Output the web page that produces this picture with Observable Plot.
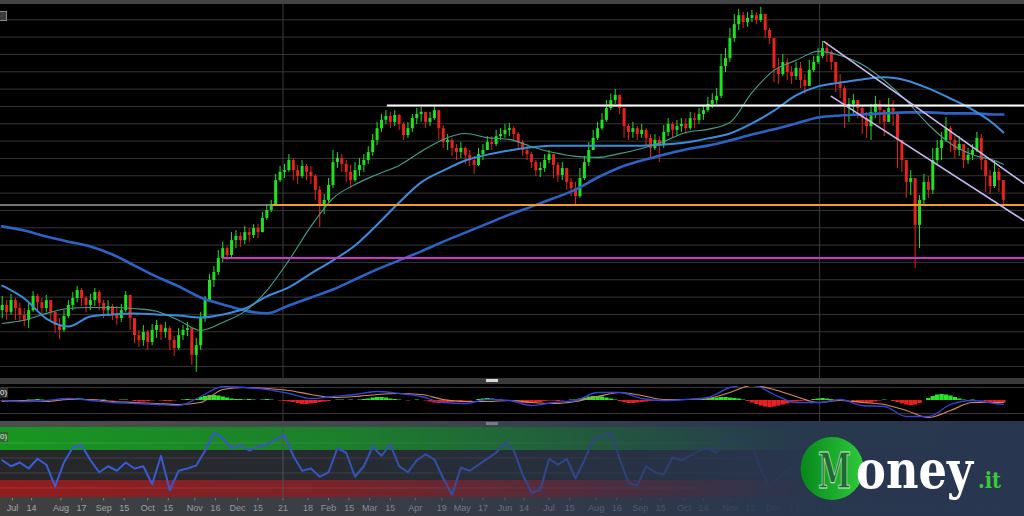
<!DOCTYPE html>
<html><head><meta charset="utf-8">
<script src="https://cdn.jsdelivr.net/npm/d3@7"></script>
<script src="https://cdn.jsdelivr.net/npm/@observablehq/plot@0.6"></script>
<style>
html,body{margin:0;padding:0;background:#000;}
#wrap{position:relative;width:1024px;height:516px;overflow:hidden;background:#000;font-family:"Liberation Sans",Arial,sans-serif;}
.abs{position:absolute;overflow:hidden;}
</style></head><body><div id="wrap"></div>
<script>
// ---------- data (FTSE MIB–like daily chart, one candle per 3 calendar days) ----------
const candleStart = "2020-06-24";
const candleStepDays = 3;
const firstOpen = 19610;
const closes = [19760,19560,19900,19670,19470,19330,19610,20020,19840,19670,
19900,19560,19180,19040,19440,19760,19960,20190,19960,19760,
19900,20130,19820,19610,19730,19500,19380,19610,20050,19380,
18890,18750,18980,18690,19040,19180,18980,19090,18750,18520,
18890,19040,19090,18320,18600,19380,19900,20480,20710,21110,
21400,21200,21630,21750,21630,21860,21780,21980,21860,22270,
22500,22670,23360,23600,23650,23940,23650,23480,23770,23600,
23480,23080,22640,22790,23220,23880,24000,23830,23600,23360,
23650,23800,23940,24170,24520,24860,25100,25210,25040,25240,
24980,24660,24860,25150,25270,25330,25040,25150,25380,24860,
24460,24520,24290,24170,24290,24090,23940,23800,24110,24230,
24460,24400,24630,24690,24810,24860,24690,24460,24230,24110,
23880,23650,23710,23940,24110,23800,23510,23710,23310,23130,
22900,23420,23880,24230,24580,24860,25100,25440,25670,25820,
25440,24920,24750,24860,24690,24810,24580,24290,24520,24370,
24750,24980,24810,24920,24980,24860,25150,25100,25270,25380,
25560,25670,25790,26650,26880,27460,27860,28120,27920,28040,
28120,27980,28150,27690,27460,26600,26420,26770,26480,26360,
26600,26250,26080,26540,26770,26940,27170,27060,26770,26190,
26020,25500,25560,25670,25440,25150,24920,25330,25560,25380,
25040,25440,25330,24520,23940,23310,23420,22070,22790,23310,
23080,23940,24290,24520,24860,24520,24230,24400,23940,24090,
24230,24580,23940,23480,23190,23600,23360,22790];
const highs = [20020,19900,20080,19960,19820,19670,19840,20160,20080,19960,
20050,19900,19560,19380,19610,19900,20130,20310,20250,20020,
20080,20250,20190,19900,19900,19790,19730,19790,20160,20020,
19330,19040,19180,19040,19210,19330,19210,19270,19150,18860,
19090,19180,19270,19040,18810,19560,20020,20650,20880,21340,
21580,21460,21860,21920,21860,22040,21980,22090,22090,22440,
22670,22790,23540,23770,23830,24110,24000,23800,23940,23830,
23770,23540,23190,22960,23420,24230,24170,24110,23940,23800,
23880,24000,24110,24340,24690,25040,25270,25380,25330,25380,
25270,25040,25040,25270,25440,25470,25330,25330,25500,25380,
24950,24690,24580,24400,24460,24340,24230,24060,24290,24400,
24630,24630,24810,24860,24980,25010,24920,24750,24520,24340,
24170,23940,23880,24110,24230,24110,23880,23880,23710,23420,
23310,23710,24060,24460,24810,25040,25300,25670,25850,25990,
25790,25380,24980,25040,24920,24980,24860,24690,24690,24630,
24950,25150,25040,25100,25150,25150,25330,25300,25440,25530,
25760,25870,26020,27000,27170,27750,28150,28300,28210,28210,
28270,28210,28360,28100,27750,27400,26880,27000,26880,26650,
26770,26770,26420,26830,26940,27170,27370,27350,27110,26770,
26420,26080,25730,25850,25670,25500,25330,25560,25790,25670,
25380,25730,25670,25040,24520,23940,23650,22930,22930,23540,
23480,24290,24520,24750,25180,24920,24630,24630,24340,24290,
24400,24750,24690,24000,23650,23940,23710,23310];
const lows = [19380,19330,19470,19330,19270,19150,19090,19560,19610,19470,
19560,19270,18950,18780,18980,19380,19610,19840,19730,19560,
19610,19730,19610,19380,19440,19330,19180,19270,19560,19040,
18660,18550,18580,18460,18600,18810,18750,18810,18460,18290,
18460,18750,18860,18030,17830,18460,19270,19840,20280,20620,
21000,21060,21110,21400,21430,21520,21580,21690,21690,21860,
22210,22440,22640,23310,23420,23600,23360,23250,23420,23360,
23250,22790,22010,22380,22730,23130,23710,23600,23310,23130,
23310,23480,23600,23830,24060,24370,24750,24980,24860,24920,
24810,24520,24580,24750,24980,25040,24860,24920,25100,24520,
24290,24230,24060,23940,24000,23830,23770,23540,23770,23940,
24230,24230,24340,24520,24580,24630,24520,24290,24060,23940,
23710,23480,23450,23600,23850,23420,23310,23360,23080,22900,
22670,22850,23360,23770,24230,24520,24810,25040,25380,25560,
25270,24580,24520,24580,24520,24580,24340,24000,24230,23880,
24290,24630,24580,24630,24750,24690,24810,24860,24980,25100,
25330,25440,25560,25730,26480,26770,27350,27690,27750,27780,
27920,27860,27920,27460,27290,26190,26130,26360,26250,26130,
26250,26020,25850,26250,26480,26710,26880,26770,26540,25900,
25730,24860,25040,25270,25150,24690,24580,24520,25150,24980,
24630,25150,24920,23710,23600,22850,22930,20830,21400,22610,
22850,22960,23830,23940,24460,24170,24000,24060,23710,23830,
23940,24170,23650,23020,22960,23130,23020,22610];

// moving averages, read at these candle indices
const maIdx = [0,5,10,15,20,25,30,35,40,45,50,55,60,65,70,75,80,85,90,95,100,105,110,115,120,125,130,135,140,145,150,155,160,165,170,175,180,185,190,195,200,205,210,215,220,225,227];
const maFast = [19240,19330,19530,19670,19700,19700,19670,19590,19330,19040,19270,19590,20190,21060,22040,22850,23250,23540,23800,24200,24550,24720,24600,24550,24340,24170,24060,24030,24140,24290,24490,24750,24840,25040,25900,26540,26830,27090,26970,26710,26250,25670,24980,24430,24110,23940,23830];
const maMid = [20330,19960,19380,19150,19440,19500,19530,19500,19470,19410,19500,19670,20020,20280,20680,21060,21490,22090,22730,23310,23650,23940,24110,24230,24320,24370,24370,24370,24370,24370,24400,24460,24580,24720,25010,25380,25820,26080,26190,26280,26340,26250,26020,25730,25410,24980,24750];
const maSlow = [22040,21920,21750,21600,21460,21230,20910,20590,20310,19990,19790,19610,19530,19760,19990,20220,20510,20800,21060,21320,21600,21860,22120,22380,22610,22850,23100,23450,23740,23940,24110,24260,24370,24520,24690,24840,25010,25180,25240,25270,25300,25330,25330,25300,25300,25270,25270];

// MACD lines (same indices) and histogram (every candle)
const macdLine = [0,-40,0,80,0,-80,-120,-160,-200,160,560,520,440,280,80,160,240,360,280,160,-80,-120,40,0,-200,-80,0,320,320,80,0,40,120,520,640,240,-80,-80,40,-200,-240,-640,-640,-160,0,-120,-160];
const macdSignal = [-40,0,-40,40,40,-40,-80,-120,-160,-80,440,520,480,400,240,120,160,240,280,240,40,-40,-40,0,-80,-120,-40,160,320,200,40,40,80,320,600,440,160,-80,0,-80,-160,-400,-680,-400,-80,-80,-80];
const macdHist = [-20,-40,-40,-20,-20,0,20,20,40,20,0,-20,-40,-20,20,40,60,80,60,40,
0,-20,0,20,0,-20,0,20,20,0,-40,-60,-60,-40,-20,0,-20,-40,-40,-20,0,20,40,20,40,
120,160,200,200,180,140,100,60,40,40,20,40,20,0,20,40,20,0,-20,-40,-60,
-80,-120,-160,-160,-140,-120,-80,-60,-40,0,20,20,0,20,0,20,40,
60,100,120,120,100,60,40,20,0,-20,0,20,0,-20,
-60,-100,-120,-120,-100,-80,-40,-40,-20,-20,0,40,60,80,60,40,20,0,-20,-20,
-60,-100,-120,-120,-100,-80,-40,-20,-20,-40,-20,0,20,20,
60,100,140,160,160,140,100,60,20,-40,-80,-120,-120,-100,-80,-60,-40,
-20,0,20,0,-20,0,20,40,20,0,20,40,60,80,100,120,120,100,80,60,20,
-40,-100,-160,-220,-260,-280,-260,-220,-180,-140,-100,-60,-40,-20,0,
40,60,80,60,40,0,-20,-20,0,
-40,-80,-100,-120,-100,-60,-20,20,0,-40,-80,-140,-180,-200,-180,-120,
0,80,160,220,240,220,180,120,60,20,0,20,0,-20,-60,-100,-120,-120,-100];

// RSI, read at every second candle
const rsiVals = [57,49,54,46,59,51,22,54,74,77,57,41,49,43,54,46,49,25,63,17,
43,46,50,70,94,87,73,77,70,75,78,85,91,63,43,46,35,41,73,67,
35,49,75,63,78,49,41,57,65,58,33,11,47,43,51,59,67,81,70,38,
14,17,59,51,59,33,57,85,89,94,59,27,23,49,41,38,61,57,63,70,
73,67,83,89,85,78,46,22,33,43,50,41,59,70,63,43,35,46,30,43,
38,46,22,17,25,46,59,67,57,51,59,43,33,38];
const rsiZones = [{lo:70, hi:100.7, fill:"#18991f"},{lo:30, hi:70, fill:"#262626"},{lo:7.3, hi:30, fill:"#961c1c"}];
const rsiGrid = [20,40,60,80];

// horizontal levels and trend channel
const priceGrid = [18000,18500,19000,19500,20000,20500,21000,21500,22000,22500,23000,23500,24000,24500,25000,25500,26000,26500,27000,27500,28000,28500];
const levels = [
  {from:"2020-06-22", to:"2020-12-25", price:22660, color:"#9a9a9a", w:1.5},
  {from:"2020-12-25", to:"2022-05-21", price:22660, color:"#f29b33", w:2},
  {from:"2020-11-21", to:"2022-05-21", price:21130, color:"#d133d1", w:2},
  {from:"2021-03-13", to:"2022-05-21", price:25530, color:"#ffffff", w:2}
];
const channel = [
  {id:"upper", date:"2022-01-04", price:27370},{id:"upper", date:"2022-05-20", price:23280},
  {id:"lower", date:"2022-01-09", price:25790},{id:"lower", date:"2022-05-20", price:22210}
];
const yearLines = ["2021-01-01","2022-01-01"];
const tickDates = ["2020-07-01","2020-07-14","2020-08-03","2020-08-17","2020-09-01","2020-09-15","2020-10-01","2020-10-15","2020-11-02","2020-11-16","2020-12-01","2020-12-15","2021-01-01","2021-01-18","2021-02-01","2021-02-15","2021-03-01","2021-03-15","2021-04-01","2021-04-19","2021-05-03","2021-05-17","2021-06-01","2021-06-14","2021-07-01","2021-07-15","2021-08-02","2021-08-16","2021-09-01","2021-09-15","2021-10-01","2021-10-14","2021-11-01","2021-11-15","2021-12-01","2021-12-15","2022-01-03","2022-01-17","2022-02-01","2022-02-15","2022-03-01","2022-03-15","2022-04-01","2022-04-19","2022-05-02","2022-05-16"];
const tickLabels = ["Jul","14","Aug","17","Sep","15","Oct","15","Nov","16","Dec","15","21","18","Feb","15","Mar","15","Apr","19","May","17","Jun","14","Jul","15","Aug","16","Sep","15","Oct","14","Nov","15","Dec","15","22","17","Feb","15","Mar","15","Apr","19","May","16"];

// ---------- build ----------
const DAY = 864e5;
const d = s => new Date(s + "T00:00:00Z");
const t0 = d(candleStart).getTime();
const dateAt = i => new Date(t0 + i * candleStepDays * DAY);
const xDomain = [new Date("2020-06-22T20:05:00Z"), new Date("2022-05-20T09:36:00Z")];
const G = "#1fe21f", R = "#e8231c";

const candles = closes.map((c, i) => {
  const open = i ? closes[i - 1] : firstOpen;
  return {date: dateAt(i), open, close: c, high: Math.max(highs[i], open, c), low: Math.min(lows[i], open, c)};
});
const maData = maIdx.map((k, j) => ({date: dateAt(k), fast: maFast[j], mid: maMid[j], slow: maSlow[j], macd: macdLine[j], signal: macdSignal[j]}));
const histData = macdHist.map((v, i) => ({date: dateAt(i), v}));
const rsiData = rsiVals.map((v, j) => ({date: dateAt(2 * j), v}));
const levelData = levels.map(l => ({...l, x1: d(l.from), x2: d(l.to)}));
const chanData = channel.map(c => ({...c, date: d(c.date)}));
const years = yearLines.map(d);
const ticks = tickDates.map((s, i) => ({date: d(s), label: tickLabels[i]}));

const wrap = document.getElementById("wrap");
function place(el, top, height, extra) {
  const box = document.createElement("div");
  box.className = "abs";
  box.style.cssText = `left:0;top:${top}px;width:1024px;height:${height}px;` + (extra || "");
  if (el) box.appendChild(el);
  wrap.appendChild(box);
  return box;
}
const base = {width: 1024, marginTop: 0, marginRight: 0, marginBottom: 0, marginLeft: 0,
  style: {background: "none"}, color: {type: "identity"}};

// main price panel
const main = Plot.plot({...base, height: 378,
  x: {type: "utc", domain: xDomain, axis: null},
  y: {domain: [17652, 28557], axis: null},
  marks: [
    Plot.ruleY(priceGrid, {stroke: "#363636", strokeWidth: 1}),
    Plot.ruleX(years, {stroke: "#3c3c3c", strokeWidth: 1}),
    Plot.ruleX(candles, {x: "date", y1: "low", y2: "high", stroke: c => c.close >= c.open ? G : R, strokeWidth: 1}),
    Plot.ruleX(candles, {x: "date", y1: "open", y2: "close", stroke: c => c.close >= c.open ? G : R, strokeWidth: 3}),
    Plot.line(maData, {x: "date", y: "slow", stroke: "#2b63c6", strokeWidth: 2.6, curve: "monotone-x"}),
    Plot.line(maData, {x: "date", y: "mid", stroke: "#3a8ddd", strokeWidth: 2, curve: "monotone-x"}),
    Plot.line(maData, {x: "date", y: "fast", stroke: "#45a08c", strokeWidth: 1.1, curve: "monotone-x"}),
    Plot.ruleY(levelData, {y: "price", x1: "x1", x2: "x2", stroke: "color", strokeWidth: "w"}),
    Plot.line(chanData, {x: "date", y: "price", z: "id", stroke: "#c9b6f2", strokeWidth: 1.6})
  ]});
place(main, 0, 378);

// MACD panel
const macd = Plot.plot({...base, height: 35,
  x: {type: "utc", domain: xDomain, axis: null},
  y: {domain: [-840, 560], axis: null},
  marks: [
    Plot.ruleY([520, -520], {stroke: "#3a3a3a"}),
    Plot.ruleX(years, {stroke: "#3c3c3c"}),
    Plot.ruleX(histData, {x: "date", y1: 0, y2: "v", stroke: h => h.v >= 0 ? "#27e527" : "#ea2020", strokeWidth: 4.4}),
    Plot.line(maData, {x: "date", y: "signal", stroke: "#d68a5c", strokeWidth: 1.2, curve: "monotone-x"}),
    Plot.line(maData, {x: "date", y: "macd", stroke: "#3443d8", strokeWidth: 1.3, curve: "monotone-x"})
  ]});
place(macd, 386, 35);

// RSI panel
const rsi = Plot.plot({...base, height: 70,
  x: {type: "utc", domain: xDomain, axis: null},
  y: {domain: [7.3, 100.7], axis: null},
  marks: [
    Plot.rect(rsiZones, {x1: () => xDomain[0], x2: () => xDomain[1], y1: "lo", y2: "hi", fill: "fill"}),
    Plot.ruleY(rsiGrid, {stroke: "#ffffff", strokeOpacity: 0.13}),
    Plot.ruleX(years, {stroke: "#5a5a5a"}),
    Plot.line(rsiData, {x: "date", y: "v", stroke: "#3c5fe0", strokeWidth: 2})
  ]});
place(rsi, 427, 70);

// time axis strip
const axis = Plot.plot({...base, height: 19,
  x: {type: "utc", domain: xDomain, axis: null},
  y: {domain: [0, 1], axis: null},
  marks: [
    Plot.ruleX(ticks, {x: "date", y1: 0.82, y2: 0.95, stroke: "#8a8a8a"}),
    Plot.text(ticks, {x: "date", y: 0.42, text: "label", fill: "#b0b0b0", fontSize: 9, fontFamily: "Liberation Sans, Arial, sans-serif"})
  ]});
place(axis, 497, 19, "background:#404040;");

// chrome: toolbar, separators, panel labels
place(null, 0, 4, "background:#444;");
place(null, 378, 6, "background:#3a3a3a;");
place(null, 421, 6, "background:#4e4e4e;");
const deco = document.createElement("div");
deco.innerHTML = `
<div class="abs" style="left:0;top:11px;width:6px;height:8px;background:#3c3c3c;border:1px solid #8a8a8a;border-left:none;"></div>
<div class="abs" style="left:486px;top:379px;width:12px;height:3px;background:#d8d8d8;"></div>
<div class="abs" style="left:486px;top:422px;width:12px;height:3px;background:#bdbdbd;"></div>
<div class="abs" style="left:0;top:388px;width:8px;height:10px;background:#2e2e2e;color:#eee;font-size:8px;line-height:10px;">0)</div>
<div class="abs" style="left:0;top:432px;width:8px;height:10px;background:#2c6a2c;color:#eee;font-size:8px;line-height:10px;">0)</div>`;
wrap.appendChild(deco);

// branding overlay
place(null, 421, 95, "background:linear-gradient(to right, rgba(40,54,79,0.03) 0%, rgba(40,54,79,0.26) 33%, rgba(40,54,79,0.5) 49%, rgba(40,54,79,0.78) 66%, rgba(40,54,79,0.97) 78%, rgba(40,54,79,1) 100%);");
const NS = "http://www.w3.org/2000/svg";
const logo = document.createElementNS(NS, "svg");
logo.setAttribute("width", 1024); logo.setAttribute("height", 516);
logo.style.cssText = "position:absolute;left:0;top:0;";
logo.innerHTML = `
<defs><linearGradient id="lg" x1="0" x2="1" y1="0" y2="0"><stop offset="0" stop-color="#07871b"/><stop offset="1" stop-color="#2fcb3c"/></linearGradient></defs>
<circle cx="832" cy="468.5" r="31.5" fill="url(#lg)"/>`;
wrap.appendChild(logo);
const logoParts = [
  {text: "M", x: 818, w: 33, size: 48, fill: "#1e6a31", stroke: "#c9ebc9"},
  {text: "oney", x: 856, w: 117, size: 53, fill: "#ffffff"},
  {text: ".it", x: 978, w: 23, size: 22, fill: "#3cc83c"}
];
for (const p of logoParts) {
  const t = document.createElementNS(NS, "text");
  t.textContent = p.text;
  t.setAttribute("font-family", "DejaVu Serif");
  t.setAttribute("font-weight", "bold");
  t.setAttribute("font-size", p.size);
  t.setAttribute("fill", p.fill);
  if (p.stroke) { t.setAttribute("stroke", p.stroke); t.setAttribute("stroke-width", "0.9"); }
  logo.appendChild(t);
  const len = t.getComputedTextLength() || p.w;
  t.setAttribute("transform", `translate(${p.x},488) scale(${(p.w / len).toFixed(4)},1)`);
}
</script>
</body></html>
